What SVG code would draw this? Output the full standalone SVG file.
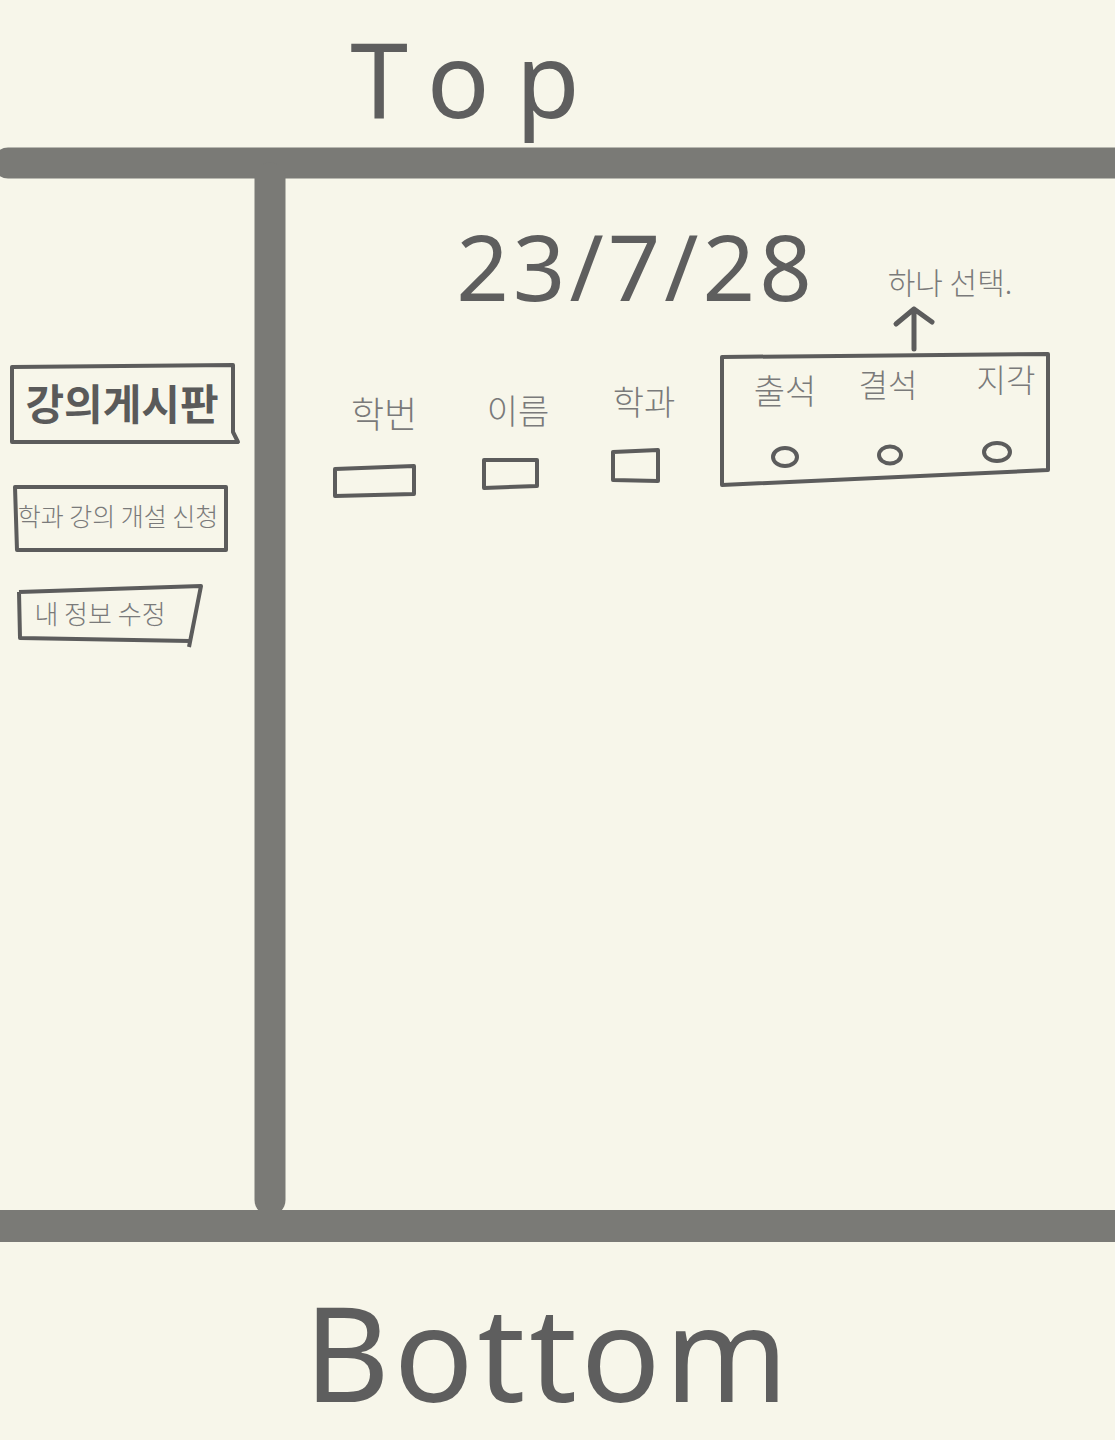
<svg xmlns="http://www.w3.org/2000/svg" width="1115" height="1440" viewBox="0 0 1115 1440">
<style>
.bar{stroke:#7a7a76;stroke-width:31;stroke-linecap:round;fill:none}
.box{fill:none;stroke:#5c5c5c;stroke-width:4;stroke-linejoin:round}
.thin{font-family:"Noto Sans CJK KR","Noto Sans",sans-serif;font-weight:300;fill:#7a7a7a;text-anchor:middle}
.big{font-family:"Noto Sans","Liberation Sans",sans-serif;font-weight:400;fill:#5e5e5e;text-anchor:middle}
</style>
<rect width="1115" height="1440" fill="#f7f6ea"/>
<g id="frame">
<line class="bar" x1="8" y1="163" x2="1115" y2="163"/>
<line class="bar" x1="270" y1="178" x2="270" y2="1200"/>
<line x1="0" y1="1226" x2="1115" y2="1226" stroke="#7a7a76" stroke-width="32"/>
</g>
<g id="top-label"><text class="big" x="478" y="118" font-size="104" letter-spacing="26">Top</text></g>
<g id="bottom-label"><text class="big" x="548" y="1402" font-size="132" letter-spacing="4">Bottom</text></g>
<g id="menu-board">
<path class="box" d="M12,367 L233,365 L233,432 L238,442 L12,442 Z"/>
<text x="122" y="420" font-family="Noto Sans CJK KR,sans-serif" font-weight="700" font-size="42" fill="#5a5a5a" text-anchor="middle">강의게시판</text>
</g>
<g id="menu-open">
<path class="box" d="M15,487 L226,487 L226,550 L17,550 Z"/>
<text class="thin" x="118" y="526" font-size="25">학과 강의 개설 신청</text>
</g>
<g id="menu-profile">
<path class="box" d="M19,592 L201,586 L189,647 M190,641 L20,638 L19,592"/>
<text class="thin" x="100" y="624" font-size="26">내 정보 수정</text>
</g>
<g id="date"><text class="big" x="636" y="301" font-size="92" font-weight="600" letter-spacing="4">23/7/28</text></g>
<g id="field-id">
<text class="thin" x="384" y="428" font-size="36">학번</text>
<path class="box" d="M335,469 L414,466 L414,494 L335,496 Z"/>
</g>
<g id="field-name">
<text class="thin" x="518" y="424" font-size="34">이름</text>
<path class="box" d="M484,460 L537,460 L537,486 L484,488 Z"/>
</g>
<g id="field-dept">
<text class="thin" x="644" y="415" font-size="34">학과</text>
<path class="box" d="M613,452 L658,450 L658,481 L613,480 Z"/>
</g>
<g id="attendance">
<path class="box" d="M722,357 L1048,354 L1048,470 L722,485 Z"/>
<text class="thin" x="785" y="404" font-size="34">출석</text>
<text class="thin" x="888" y="397" font-size="32">결석</text>
<text class="thin" x="1006" y="392" font-size="32">지각</text>
<ellipse class="box" cx="785" cy="457" rx="12" ry="9"/>
<ellipse class="box" cx="890" cy="455" rx="11" ry="8.5"/>
<ellipse class="box" cx="997" cy="452" rx="13" ry="9"/>
</g>
<g id="hint"><text class="thin" x="950" y="294" font-size="30">하나 선택.</text></g>
<g id="connectors">
<path d="M914,349 L914,309 M896,324 L914,309 L932,322" fill="none" stroke="#5c5c5c" stroke-width="5" stroke-linecap="round" stroke-linejoin="round"/>
</g>
</svg>
